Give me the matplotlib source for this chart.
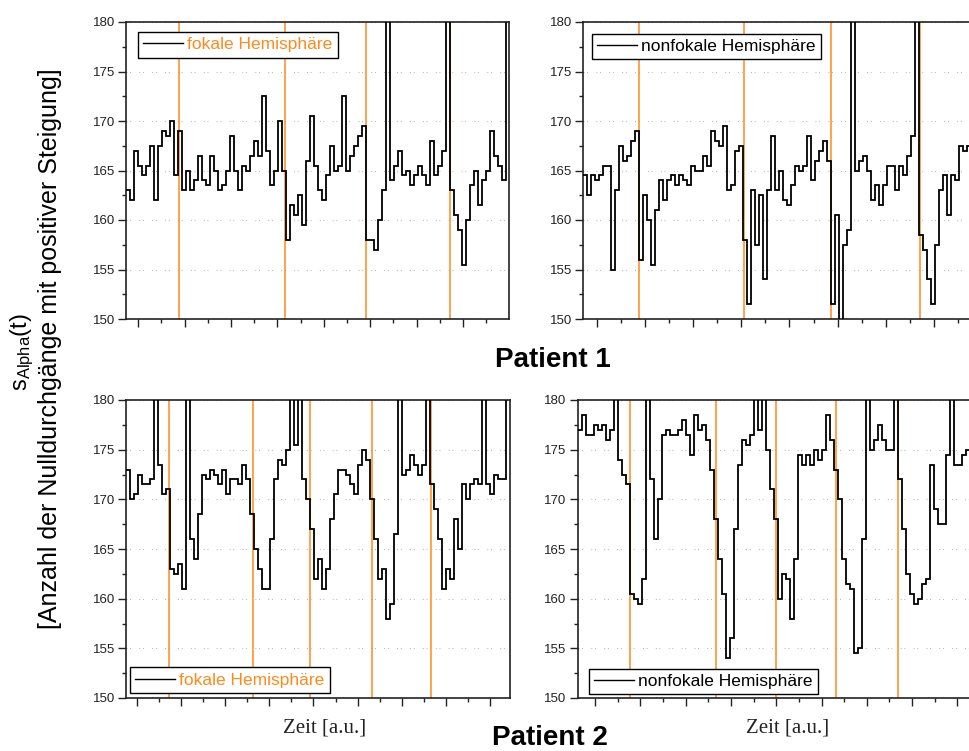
import numpy as np
import matplotlib.pyplot as plt
from matplotlib.lines import Line2D
from matplotlib.ticker import MultipleLocator

plt.rcParams['font.family'] = ['Liberation Sans', 'DejaVu Sans']
plt.rcParams['mathtext.fontset'] = 'custom'
plt.rcParams['mathtext.rm'] = 'Liberation Sans'
plt.rcParams['mathtext.it'] = 'Liberation Sans:italic'

ORANGE = '#ff8a1c'

# s_Alpha(t), one value per time bin (190 = off-scale burst)
p1_fokal = [163, 162, 167, 165.5, 164.5, 165.5, 167.5, 162, 167.5, 169,
            168.5, 170, 164.5, 169, 163, 165, 163, 164, 166.5, 164,
            163.5, 166.5, 165, 163, 163.5, 165, 168.5, 165, 163, 165.5,
            165, 166.5, 168, 166.5, 172.5, 167, 163.5, 165, 170, 165,
            158, 161.5, 160.5, 162.5, 159.5, 166, 170.5, 165.5, 163, 162,
            164.5, 167.5, 165, 165.5, 172.5, 165, 166.5, 167.5, 168.5, 169.5,
            158, 158, 157, 160, 163, 190, 164, 165.5, 167, 164.5,
            165, 163.5, 164.5, 165.5, 164.5, 163.5, 168, 164.5, 165.5, 167,
            190, 163, 160.5, 159, 155.5, 160, 163.5, 165, 161.5, 164,
            165, 169, 166.5, 165.5, 164, 190]

p1_nonfokal = [164.5, 162.5, 164.5, 164, 164.5, 165.5, 165.5, 155, 163, 167.5,
               166, 166.5, 168, 169, 156, 162.5, 160, 155.5, 161, 164,
               162, 164, 164.5, 163.5, 164.5, 164, 163.5, 165.5, 165, 165,
               166.5, 165.5, 169, 168, 167.5, 169.5, 163, 163.5, 167, 167.5,
               158, 151.5, 163, 157.5, 162.5, 154, 163, 168.5, 163, 165,
               162, 161.5, 163.5, 165.5, 165, 165.5, 168.5, 164, 166, 167,
               168, 166, 151.5, 160.5, 149, 157.5, 159, 190, 165, 166,
               166.5, 165, 162, 163.5, 161.5, 163.5, 165.5, 165.5, 163, 165.5,
               164.5, 166.5, 168.5, 190, 158.5, 157, 154, 151.5, 157.5, 163,
               164.5, 160.5, 164.5, 164, 167.5, 167, 167.5]

p2_fokal = [173, 170, 170.5, 172.5, 171.5, 171.5, 172, 190, 173.5, 170.5,
            171, 163, 162.5, 163.5, 161, 190, 166, 164, 168.5, 172.5,
            172, 173, 172.5, 171.5, 173, 170.5, 172, 172, 171.5, 173.5,
            172, 168.5, 165, 163, 161, 161, 166, 172, 174, 173.5,
            175, 190, 175.5, 190, 172, 170, 167, 162, 164, 161,
            163, 168, 170.5, 173, 173, 172.5, 171.5, 170.5, 173.5, 175,
            174, 170, 166, 162, 163, 158, 159.5, 166.5, 190, 172.5,
            173, 174.5, 173.5, 172.5, 173.5, 190, 171.5, 169, 166, 161,
            163, 162, 168, 165, 171.5, 170, 171.5, 172, 171.5, 190,
            171.5, 170.5, 172.5, 172, 172, 190]

p2_nonfokal = [177, 178.5, 176.5, 176.5, 177.5, 177, 177.5, 176, 177, 190,
               174, 172.5, 171.5, 160.5, 160, 159.5, 162, 190, 172, 166,
               170, 176.5, 177, 176.5, 176.5, 177, 178, 176.5, 174.5, 178.5,
               177, 177.5, 176, 173, 168, 164, 160.5, 154, 156, 167,
               173.5, 176, 175.5, 176.5, 190, 177, 190, 175, 171, 168,
               160, 162.5, 162, 158, 164, 174.5, 173.5, 174.5, 173.5, 175,
               174, 175, 178.5, 176, 173, 170, 164, 161.5, 161, 154.5,
               155, 166, 190, 175, 176, 177.5, 176, 175, 175, 190,
               172, 167, 162.5, 160.5, 159.5, 160, 161.5, 162, 173.5, 169,
               167.5, 167.5, 174.5, 190, 173.5, 173.5, 174.5, 175]

# seizure markers (time units)
p1_fokal_events = [0.88, 3.16, 4.90, 6.72]
p1_nonfokal_events = [0.87, 3.06, 4.86, 6.70]
p2_fokal_events = [0.74, 2.62, 3.92, 5.33, 6.66]
p2_nonfokal_events = [0.77, 2.66, 4.00, 5.32, 6.69]

W, H = 970, 751
fig = plt.figure(figsize=(W / 100, H / 100), dpi=100)


def panel(rect, xlo, px_unit, vals, events, label, label_color, leg_loc, leg_anchor):
    left, top, width, height = rect
    ax = fig.add_axes([left / W, 1 - (top + height) / H, width / W, height / H])
    edges = xlo + np.arange(len(vals) + 1) * 4.0 / px_unit
    for ev in events:
        ax.axvline(ev, color=ORANGE, lw=1.1, zorder=2)
    ax.stairs(vals, edges, baseline=None, color='k', lw=1.3, zorder=3)
    ax.set_xlim(xlo, xlo + width / px_unit)
    ax.set_ylim(150, 180)

    ax.xaxis.set_major_locator(MultipleLocator(1))
    ax.xaxis.set_minor_locator(MultipleLocator(0.5))
    ax.yaxis.set_major_locator(MultipleLocator(5))
    ax.yaxis.set_minor_locator(MultipleLocator(2.5))
    ax.tick_params(axis='both', which='major', direction='out', length=6, width=1.0,
                   color='#222222')
    ax.tick_params(axis='both', which='minor', direction='out', length=3, width=1.0,
                   color='#222222')
    ax.tick_params(axis='x', which='both', labelbottom=False)
    ax.tick_params(axis='y', labelsize=9.5, pad=2, labelcolor='#222222')
    for s in ax.spines.values():
        s.set_linewidth(1.2)
        s.set_color('#222222')

    ax.yaxis.grid(True, which='major', linestyle=(0, (0.8, 2.5, 0.8, 7.5)),
                  color='#b0b0b0', lw=0.8)
    ax.set_axisbelow(True)

    leg = ax.legend([Line2D([], [], color='k', lw=1.0)], [label], loc=leg_loc,
                    bbox_to_anchor=leg_anchor, fontsize=12.5, frameon=True,
                    fancybox=False, edgecolor='k', framealpha=1,
                    handlelength=2.3, handletextpad=0.25, borderpad=0.3,
                    borderaxespad=0)
    leg.get_frame().set_linewidth(1.0)
    leg.get_texts()[0].set_color(label_color)
    return ax


panel((126, 22, 383, 297), -0.265, 46.4, p1_fokal, p1_fokal_events,
      'fokale Hemisphäre', ORANGE, 'upper left', (0.031, 0.966))
panel((583.3, 22, 400, 297), -0.276, 48.2, p1_nonfokal, p1_nonfokal_events,
      'nonfokale Hemisphäre', 'k', 'upper left', (0.021, 0.960))
panel((126, 400, 384, 298), -0.242, 44.2, p2_fokal, p2_fokal_events,
      'fokale Hemisphäre', ORANGE, 'lower left', (0.010, 0.017))
panel((577.7, 400, 400, 298), -0.382, 45.3, p2_nonfokal, p2_nonfokal_events,
      'nonfokale Hemisphäre', 'k', 'lower left', (0.028, 0.013))

fig.text(553 / W, 1 - 367 / H, 'Patient 1', fontsize=20, fontweight='bold',
         ha='center', va='baseline')
fig.text(550 / W, 1 - 745 / H, 'Patient 2', fontsize=20, fontweight='bold',
         ha='center', va='baseline')

for xc in (325, 788):
    fig.text(xc / W, 1 - 732 / H, 'Zeit [a.u.]', fontsize=15,
             family='Liberation Serif', ha='center', va='baseline', color='#222222')

fig.text(22 / W, 1 - 352 / H, r'$\mathrm{s}_{\mathrm{Alpha}}\mathrm{(t)}$', fontsize=17,
         rotation=90, ha='center', va='center')
fig.text(50 / W, 1 - 349 / H, '[Anzahl der Nulldurchgänge mit positiver Steigung]',
         fontsize=18, rotation=90, ha='center', va='center')

fig.savefig('out.png', dpi=100)
